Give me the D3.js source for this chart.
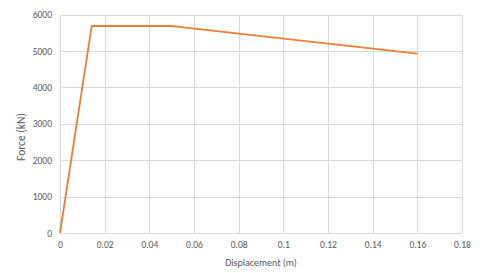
<!DOCTYPE html>
<html><head><meta charset="utf-8">
<script src="https://cdn.jsdelivr.net/npm/d3@7"></script>
<style>body{margin:0;background:#fff}svg{display:block}text{font-family:Calibri,"Liberation Sans",Carlito,sans-serif}</style>
</head><body>
<script>
const displacement = [0, 0.0142, 0.0492, 0.16];
const force = [0, 5690, 5690, 4930];
const xTicks = [0, 0.02, 0.04, 0.06, 0.08, 0.1, 0.12, 0.14, 0.16, 0.18];
const yTicks = [0, 1000, 2000, 3000, 4000, 5000, 6000];

const W = 480, H = 273;
const m = {left: 60, right: 18, top: 15, bottom: 40};
const svg = d3.select("body").append("svg").attr("width", W).attr("height", H);
const x = d3.scaleLinear().domain([0, 0.18]).range([m.left, 462]);
const y = d3.scaleLinear().domain([0, 6000]).range([233, 14.7]);

const g = svg.append("g");
g.selectAll(".vg").data(xTicks).join("line")
  .attr("x1", d => Math.round(x(d)) + 0.5).attr("x2", d => Math.round(x(d)) + 0.5)
  .attr("y1", y(6000)).attr("y2", y(0)).attr("stroke", "#d9d9d9").attr("stroke-width", 1);
g.selectAll(".hg").data(yTicks).join("line")
  .attr("y1", d => Math.round(y(d)) + 0.5).attr("y2", d => Math.round(y(d)) + 0.5)
  .attr("x1", x(0)).attr("x2", x(0.18)).attr("stroke", "#d9d9d9").attr("stroke-width", 1);

const xAxis = d3.axisBottom(x).tickValues(xTicks).tickSize(0).tickPadding(8)
  .tickFormat(d => d === 0 ? "0" : String(+d.toFixed(2)));
const xa = svg.append("g").attr("transform", `translate(0,${y(0)})`).call(xAxis);
xa.select(".domain").remove();
xa.selectAll("text").attr("fill", "#595959").attr("font-size", 9.5);

const yAxis = d3.axisLeft(y).tickValues(yTicks).tickSize(0).tickPadding(8).tickFormat(d3.format("d"));
const ya = svg.append("g").attr("transform", `translate(${x(0)},0)`).call(yAxis);
ya.select(".domain").remove();
ya.selectAll("text").attr("fill", "#595959").attr("font-size", 9.5);

const pts = displacement.map((d, i) => [d, force[i]]);
svg.append("path").datum(pts)
  .attr("d", d3.line().x(d => x(d[0])).y(d => y(d[1])))
  .attr("fill", "none").attr("stroke", "#ed7d31").attr("stroke-width", 1.8).attr("stroke-linejoin", "round");

svg.append("text").attr("x", 261).attr("y", 266).attr("text-anchor", "middle")
  .attr("fill", "#595959").attr("font-size", 10).text("Displacement (m)");
svg.append("text").attr("transform", `translate(25,137) rotate(-90)`)
  .attr("text-anchor", "middle").attr("fill", "#595959").attr("font-size", 11.5).text("Force (kN)");
</script>
</body></html>
